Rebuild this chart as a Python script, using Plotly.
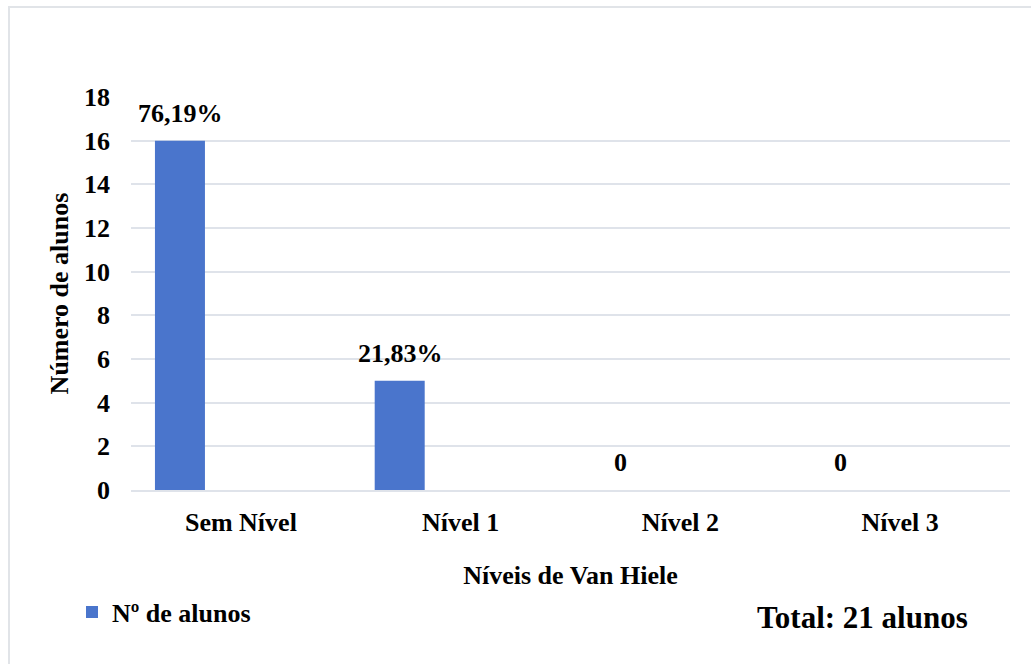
import plotly.graph_objects as go

categories = ["Sem Nível", "Nível 1", "Nível 2", "Nível 3"]
values = [16, 5, 0, 0]
labels = ["76,19%", "21,83%", "0", "0"]
y_ticks = [0, 2, 4, 6, 8, 10, 12, 14, 16, 18]
series_name = "Nº de alunos"
total_text = "Total: 21 alunos"

FONT = "Liberation Serif, Times New Roman, serif"
GRID = "#dfe3ea"

W, H = 1031, 664
L, R, T, B = 131, 21, 97, 174
pw, ph = W - L - R, H - T - B

fig = go.Figure()
fig.add_trace(go.Bar(
    x=categories, y=values, name=series_name,
    marker=dict(color="#4a75cc", line=dict(width=0)),
    width=0.2275, offset=-0.391,
    showlegend=True,
))

for c, v, t in zip(categories, values, labels):
    fig.add_annotation(x=c, y=v, text=t, showarrow=False, yanchor="bottom",
                       xshift=-60, yshift=11,
                       font=dict(family=FONT, size=26, color="black", weight="bold"))

fig.add_annotation(xref="paper", yref="paper",
                   x=(862 - L) / pw, y=(H - B - 617) / ph,
                   text=total_text, showarrow=False, xanchor="center", yanchor="middle",
                   font=dict(family=FONT, size=31, color="black", weight="bold"))

fig.add_shape(type="rect", xref="paper", yref="paper",
              x0=(9 - L) / pw, x1=(1045 - L) / pw,
              y0=(H - B - 7) / ph, y1=(H - B - 690) / ph,
              line=dict(color="#e1e4e8", width=2), fillcolor="rgba(0,0,0,0)", layer="below")

fig.update_layout(
    width=W, height=H,
    margin=dict(l=L, r=R, t=T, b=B, pad=0),
    paper_bgcolor="white", plot_bgcolor="white",
    font=dict(family=FONT, size=26, color="black", weight="bold"),
    showlegend=True,
    legend=dict(x=(72 - L) / pw, y=(H - B - 612) / ph, xanchor="left", yanchor="middle",
                orientation="h", itemwidth=30,
                font=dict(family=FONT, size=26, color="black", weight="bold"),
                bgcolor="rgba(0,0,0,0)"),
    bargap=0.5,
    xaxis=dict(
        type="category", range=[-0.5, 3.5],
        showgrid=False, showline=True, linecolor=GRID, linewidth=1.5,
        ticks="", ticklabelstandoff=8,
        tickfont=dict(family=FONT, size=26, color="black", weight="bold"),
        title=dict(text="Níveis de Van Hiele", standoff=30,
                   font=dict(family=FONT, size=26, color="black", weight="bold")),
    ),
    yaxis=dict(
        range=[0, 18], tickvals=y_ticks,
        showgrid=True, gridcolor=GRID, gridwidth=1.5,
        zeroline=False, showline=False, ticks="", ticklabelstandoff=20,
        tickfont=dict(family=FONT, size=26, color="black", weight="bold"),
        title=dict(text="Número de alunos", standoff=7,
                   font=dict(family=FONT, size=26, color="black", weight="bold")),
    ),
)

fig.write_html("out.html")
